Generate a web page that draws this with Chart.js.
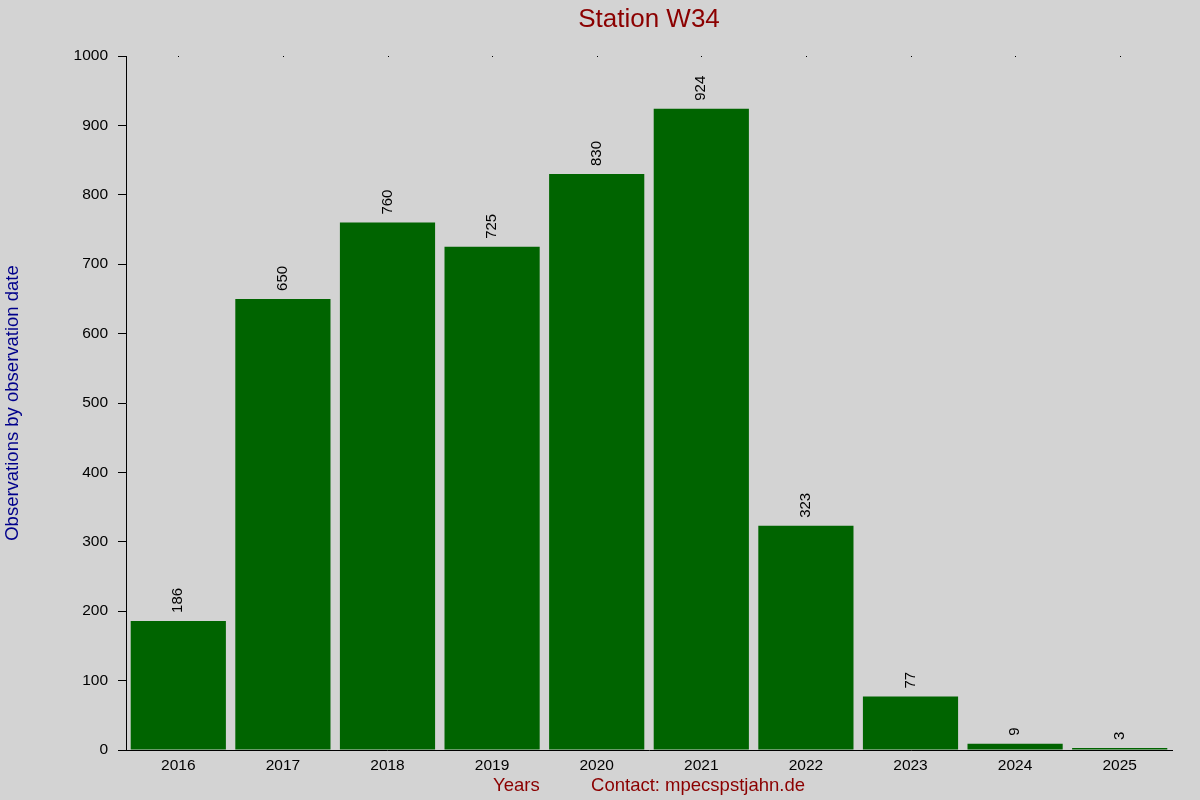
<!DOCTYPE html>
<html>
<head>
<meta charset="utf-8">
<script src="https://cdn.jsdelivr.net/npm/chart.js@4"></script>
<style>
html,body{margin:0;padding:0;background:#d3d3d3;}
#wrap{width:1200px;height:800px;position:relative;}
</style>
</head>
<body>
<div id="wrap"><canvas id="c" width="1200" height="800"></canvas></div>
<script>
const years = ['2016','2017','2018','2019','2020','2021','2022','2023','2024','2025'];
const observations = [186, 650, 760, 725, 830, 924, 323, 77, 9, 3];
const yTicks = [0, 100, 200, 300, 400, 500, 600, 700, 800, 900, 1000];
const chartTitle = 'Station W34';
const yTitle = 'Observations by observation date';
const xTitle = 'Years          Contact: mpecspstjahn.de';

const FONT = 'Liberation Sans, Arial, sans-serif';

const bgPlugin = {
  id: 'bg',
  beforeDraw(chart) {
    const ctx = chart.ctx;
    ctx.save();
    ctx.fillStyle = '#d3d3d3';
    ctx.fillRect(0, 0, chart.width, chart.height);
    ctx.restore();
  }
};

const titlePlugin = {
  id: 'customTitle',
  afterDraw(chart) {
    const ctx = chart.ctx;
    const ca = chart.chartArea;
    ctx.save();
    ctx.font = '26px ' + FONT;
    ctx.fillStyle = '#8b0000';
    ctx.textAlign = 'center';
    ctx.textBaseline = 'alphabetic';
    ctx.fillText(chartTitle, (ca.left + ca.right) / 2, 27);
    ctx.restore();
  }
};

const labelPlugin = {
  id: 'valueLabels',
  afterDatasetsDraw(chart) {
    const ctx = chart.ctx;
    const meta = chart.getDatasetMeta(0);
    const xs = chart.scales.x;
    const top = chart.chartArea.top;
    ctx.save();
    ctx.fillStyle = '#000';
    years.forEach((y, i) => {
      const px = Math.round(xs.getPixelForValue(i));
      ctx.fillRect(px, top, 1, 1);
    });
    ctx.font = '15px ' + FONT;
    ctx.fillStyle = '#000';
    ctx.textAlign = 'left';
    ctx.textBaseline = 'middle';
    meta.data.forEach((bar, i) => {
      ctx.save();
      ctx.translate(bar.x, bar.y - 8);
      ctx.rotate(-Math.PI / 2);
      ctx.fillText(String(observations[i]), 0, 0);
      ctx.restore();
    });
    ctx.restore();
  }
};

new Chart(document.getElementById('c'), {
  type: 'bar',
  data: {
    labels: years,
    datasets: [{
      data: observations,
      backgroundColor: '#006400',
      borderWidth: 0,
      barPercentage: 0.91,
      categoryPercentage: 1.0
    }]
  },
  options: {
    responsive: false,
    animation: false,
    devicePixelRatio: 1,
    layout: { padding: { left: 0, right: 28, top: 56, bottom: 0 } },
    plugins: {
      legend: { display: false },
      tooltip: { enabled: false },
      title: { display: false }
    },
    scales: {
      x: {
        offset: true,
        afterFit(scale) { scale.height = 50; },
        grid: { display: false, drawTicks: false },
        border: { display: true, color: '#000', width: 1 },
        ticks: { color: '#000', font: { family: FONT, size: 15.5 }, padding: 6, maxRotation: 0 },
        title: {
          display: true,
          text: xTitle,
          color: '#8b0000',
          font: { family: FONT, size: 18.5 },
          padding: { top: 0, bottom: 3 }
        }
      },
      y: {
        min: 0,
        max: 1000,
        afterFit(scale) { scale.width = 126; },
        afterBuildTicks(scale) { scale.ticks = yTicks.map(v => ({ value: v })); },
        grid: { display: true, drawOnChartArea: false, drawTicks: true, tickLength: 8, color: '#000' },
        border: { display: true, color: '#000', width: 1 },
        ticks: { color: '#000', font: { family: FONT, size: 15.5 }, padding: 10, callback: v => String(v) },
        title: {
          display: true,
          text: yTitle,
          color: '#00008b',
          font: { family: FONT, size: 18.5 },
          padding: { top: 2, bottom: 0 }
        }
      }
    }
  },
  plugins: [bgPlugin, labelPlugin, titlePlugin]
});
</script>
</body>
</html>
